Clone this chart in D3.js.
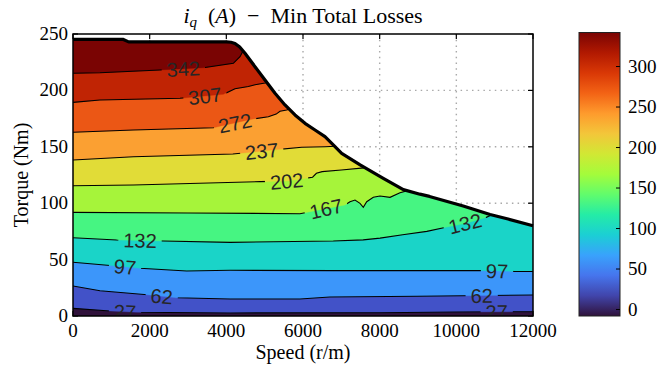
<!DOCTYPE html>
<html><head><meta charset="utf-8">
<script src="https://cdn.jsdelivr.net/npm/d3@7"></script>
<style>
html,body{margin:0;padding:0;background:#fff;}
svg{display:block;}
</style></head><body>
<svg id="chart" width="671" height="370"></svg>
<script>
// ---------- data ----------
const speedTicks = [0, 2000, 4000, 6000, 8000, 10000, 12000];
const torqueTicks = [0, 50, 100, 150, 200, 250];
const colorbarTicks = [0, 50, 100, 150, 200, 250, 300];
const colorbarRange = [-8, 342];
const contourLevels = [27, 62, 97, 132, 167, 202, 237, 272, 307, 342];

// maximum-torque envelope [speed r/m, torque Nm]
const envelope = [[0,245.3],[1300,245.3],[1450,243],[4000,243],[4120,242.7],[4226,241.6],[4350,238.4],[4487,232.9],[4748,221],
  [5009,209.2],[5270,197.4],[5530,187.1],[5791,178.2],[6052,170.8],[6313,164.9],[6574,159],[6835,150.1],
  [7009,144.2],[7490,134],[8095,122],[8617,112],[9050,108],[9300,106],[10180,97.5],[10880,90],[11350,86],[12000,80]];

// iso-lines of i_q [speed, torque]
const iso27  = [[0,6.8],[965,4.4],[1660,3.3],[4100,2.7],[8000,2.9],[10000,3.5],[12000,3.8]];
const iso62  = [[0,26.6],[704,22.4],[2010,18.6],[2705,16.2],[4100,15.1],[5920,15.1],[6700,16.8],[9000,17.5],[12000,18.6]];
const iso97  = [[0,47.6],[1045,44.6],[1750,42.3],[2965,39.9],[4100,40.5],[6790,40.2],[10700,40.2],[11530,39.5],[12000,39.5]];
const iso132 = [[0,69.4],[1140,67.4],[2350,66.5],[4100,65.3],[6790,66.5],[7570,67.5],[8010,69],[8600,72],[9230,75],[9700,78.5],[10230,82],[10750,87],[10950,90]];
const iso167 = [[0,91.9],[3000,91.3],[5920,90.7],[7096,98.4],[7226,101.3],[7357,102.8],[7487,99.9],[7573,96.4],[7662,101.3],[7834,105.2],[8009,106.4],[8270,105.2],[8530,109.3],[8791,111.7]];
const iso202 = [[0,115.5],[1575,116.1],[4880,119.1],[5600,119.6],[6050,122],[6250,123],[6350,126.5],[6500,128],[7000,129.5],[7650,131.5]];
const iso237 = [[0,138.3],[1575,141.2],[4170,143.6],[5310,147.5],[5966,149.6],[6574,150.1],[6830,150.5]];
const iso272 = [[0,162.9],[1575,164.9],[3661,166.9],[4661,174.4],[5096,176.7],[5300,179],[5400,181.5],[5574,182.6],[5650,183.5]];
const iso307 = [[0,189.4],[704,191.5],[2791,193],[3922,196.5],[4226,201.5],[4574,203.5],[4750,205],[5009,206.5],[5060,207]];
const iso342 = [[0,215.2],[704,215.7],[2270,218.1],[3400,220.1],[4183,224],[4357,229.9],[4420,234]];
const isoLines = [iso27, iso62, iso97, iso132, iso167, iso202, iso237, iso272, iso307, iso342];

// contour label placements [level, speed]
const labelAt = [[27,1357],[27,11053],[62,2314],[62,10662],[97,1357],[97,11061],[132,1748],[132,10226],
  [167,6600],[202,5574],[237,4923],[272,4226],[307,3443],[342,2878]];

// ---------- style ----------
const bandColors = ["#30123b","#4252c8","#3c96fa","#1ad4c8","#46f582","#a6f43a","#e1dc37","#fba032","#eb5715","#c02404","#7a0403"];
const turboStops = ["#30123b","#4145ab","#4675ed","#39a2fc","#1bcfd4","#24eca6","#61fc6c","#a4fc3b","#d1e834","#f3c63a","#fe9b2d","#f36315","#d93806","#b11901","#7a0403"];
const serif = "'Liberation Serif','Times New Roman',serif";
const sans = "'Liberation Sans',Arial,sans-serif";

const svg = d3.select("#chart");
const X0 = 73, X1 = 533, Y0 = 34, Y1 = 316;
const x = d3.scaleLinear().domain([0, 12000]).range([X0, X1]);
const y = d3.scaleLinear().domain([0, 250]).range([Y1, Y0]);

const defs = svg.append("defs");
defs.append("clipPath").attr("id", "plotClip").append("rect")
  .attr("x", X0).attr("y", Y0).attr("width", X1 - X0).attr("height", Y1 - Y0);
const envPoly = [[0, 0], ...envelope, [12000, 0]];
defs.append("clipPath").attr("id", "envClip").append("path")
  .attr("d", "M" + envPoly.map(d => x(d[0]) + "," + y(d[1])).join("L") + "Z");

// grid (below fills)
const grid = svg.append("g").attr("stroke", "#a9a9a9").attr("stroke-width", 1.4).attr("stroke-dasharray", "1.5,4.2");
grid.selectAll("line.gx").data(speedTicks.slice(1, -1)).enter().append("line")
  .attr("x1", d => x(d)).attr("x2", d => x(d)).attr("y1", Y0).attr("y2", Y1);
grid.selectAll("line.gy").data(torqueTicks.slice(1, -1)).enter().append("line")
  .attr("x1", X0).attr("x2", X1).attr("y1", d => y(d)).attr("y2", d => y(d));

// inward ticks
const tk = svg.append("g").attr("stroke", "#000").attr("stroke-width", 1.2);
speedTicks.forEach(v => {
  tk.append("line").attr("x1", x(v)).attr("x2", x(v)).attr("y1", Y0).attr("y2", Y0 + 5);
  tk.append("line").attr("x1", x(v)).attr("x2", x(v)).attr("y1", Y1).attr("y2", Y1 - 5);
});
torqueTicks.forEach(v => {
  tk.append("line").attr("x1", X0).attr("x2", X0 + 5).attr("y1", y(v)).attr("y2", y(v));
  tk.append("line").attr("x1", X1).attr("x2", X1 - 5).attr("y1", y(v)).attr("y2", y(v));
});

function extend(line) {
  const pts = line.slice();
  const last = pts[pts.length - 1];
  if (last[0] < 12000) { pts.push([last[0] + 120, 262]); pts.push([12000, 262]); }
  return pts;
}
const extLines = isoLines.map(extend);

// filled bands
const fills = svg.append("g").attr("clip-path", "url(#envClip)");
fills.append("rect").attr("x", X0).attr("y", y(262)).attr("width", X1 - X0).attr("height", Y1 - y(262))
  .attr("fill", bandColors[0]);
const area = d3.area().x(d => x(d[0])).y0(y(262)).y1(d => y(d[1]));
extLines.forEach((ln, i) => {
  fills.append("path").attr("d", area(ln)).attr("fill", bandColors[i + 1]).attr("stroke", bandColors[i + 1]).attr("stroke-width", 0.3);
});

function torqueAt(line, s) {
  for (let i = 1; i < line.length; i++) {
    if (s <= line[i][0]) {
      const a = line[i - 1], b = line[i];
      return a[1] + (b[1] - a[1]) * (s - a[0]) / (b[0] - a[0]);
    }
  }
  return line[line.length - 1][1];
}

const mask = defs.append("mask").attr("id", "lineMask").attr("maskUnits", "userSpaceOnUse")
  .attr("x", 0).attr("y", 0).attr("width", 671).attr("height", 370);
mask.append("rect").attr("x", 0).attr("y", 0).attr("width", 671).attr("height", 370).attr("fill", "#fff");

const lines = svg.append("g").attr("clip-path", "url(#envClip)");
const linesInner = lines.append("g").attr("mask", "url(#lineMask)");
const lineGen = d3.line().x(d => x(d[0])).y(d => y(d[1]));
extLines.forEach(ln => {
  linesInner.append("path").attr("d", lineGen(ln)).attr("fill", "none").attr("stroke", "#000").attr("stroke-width", 1.1);
});

const labs = svg.append("g").attr("clip-path", "url(#plotClip)");
labelAt.forEach(([lev, s]) => {
  const ln = isoLines[contourLevels.indexOf(lev)];
  const t = torqueAt(ln, s);
  const px = x(s), py = y(t);
  const sa = Math.max(s - 600, 0), sb = Math.min(s + 600, ln[ln.length - 1][0]);
  const ang = Math.atan2(y(torqueAt(ln, sb)) - y(torqueAt(ln, sa)), x(sb) - x(sa)) * 180 / Math.PI;
  const txt = labs.append("text")
    .attr("transform", `translate(${px},${py}) rotate(${ang})`)
    .attr("text-anchor", "middle").attr("dy", "0.36em")
    .attr("font-family", sans).attr("font-size", 20).attr("fill", "#262626")
    .text(lev);
  const w = txt.node().getComputedTextLength();
  mask.append("rect").attr("transform", `translate(${px},${py}) rotate(${ang})`)
    .attr("x", -w / 2 - 5).attr("y", -9).attr("width", w + 10).attr("height", 18).attr("fill", "#000");
});

// envelope
svg.append("path").attr("d", lineGen(envelope)).attr("fill", "none").attr("stroke", "#000")
  .attr("stroke-width", 3.2).attr("stroke-linejoin", "round");

// frame
svg.append("rect").attr("x", X0).attr("y", Y0).attr("width", X1 - X0).attr("height", Y1 - Y0)
  .attr("fill", "none").attr("stroke", "#000").attr("stroke-width", 1.5);

// tick labels
svg.append("g").selectAll("text").data(speedTicks).enter().append("text")
  .attr("x", d => x(d)).attr("y", 337).attr("text-anchor", "middle")
  .attr("font-family", serif).attr("font-size", 19).attr("fill", "#000").text(d => d);
svg.append("g").selectAll("text").data(torqueTicks).enter().append("text")
  .attr("x", 68).attr("y", d => y(d) + 6).attr("text-anchor", "end")
  .attr("font-family", serif).attr("font-size", 19).attr("fill", "#000").text(d => d);

// axis titles
svg.append("text").attr("x", (X0 + X1) / 2).attr("y", 359).attr("text-anchor", "middle")
  .attr("font-family", serif).attr("font-size", 20).text("Speed (r/m)");
svg.append("text").attr("transform", `translate(28,${(Y0 + Y1) / 2}) rotate(-90)`).attr("text-anchor", "middle")
  .attr("font-family", serif).attr("font-size", 20).text("Torque (Nm)");

// title
const title = svg.append("text").attr("x", (X0 + X1) / 2).attr("y", 23).attr("text-anchor", "middle")
  .attr("font-family", serif).attr("font-size", 22);
title.append("tspan").attr("font-style", "italic").text("i");
title.append("tspan").attr("font-style", "italic").attr("font-size", 15).attr("dy", 4).text("q");
title.append("tspan").attr("dy", -4).text("\u2002(");
title.append("tspan").attr("font-style", "italic").text("A");
title.append("tspan").text(")\u2002\u2212\u2002Min Total Losses");

// colorbar
const CX0 = 579, CX1 = 620, CY0 = 32.5, CY1 = 316;
const cy = d3.scaleLinear().domain(colorbarRange).range([CY1, CY0]);
const grad = defs.append("linearGradient").attr("id", "cbGrad").attr("x1", 0).attr("y1", 1).attr("x2", 0).attr("y2", 0);
turboStops.forEach((c, i) => grad.append("stop").attr("offset", i / (turboStops.length - 1)).attr("stop-color", c));
svg.append("rect").attr("x", CX0).attr("y", CY0).attr("width", CX1 - CX0).attr("height", CY1 - CY0)
  .attr("fill", "url(#cbGrad)").attr("stroke", "#222").attr("stroke-width", 1);
const cbt = svg.append("g");
colorbarTicks.forEach(v => {
  cbt.append("line").attr("x1", CX1 - 4).attr("x2", CX1).attr("y1", cy(v)).attr("y2", cy(v)).attr("stroke", "#000").attr("stroke-width", 1);
  cbt.append("text").attr("x", 628).attr("y", cy(v) + 6).attr("font-family", serif).attr("font-size", 19).text(v);
});
</script>
</body></html>
